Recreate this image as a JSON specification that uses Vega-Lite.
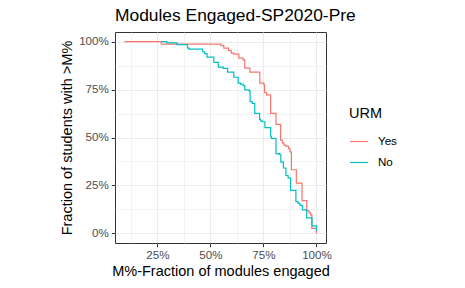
{
  "$schema": "https://vega.github.io/schema/vega-lite/v6.json",
  "width": 211,
  "height": 211,
  "autosize": {"type": "none"},
  "padding": {"left": 115, "top": 32, "right": 139, "bottom": 45},
  "background": "white",
  "title": {"text": "Modules Engaged-SP2020-Pre", "anchor": "start", "frame": "group", "font": "Liberation Sans", "fontSize": 17.4, "fontWeight": "normal", "color": "black", "offset": 8},
  "config": {"view": {"stroke": "#333333", "strokeWidth": 1}, "font": "Liberation Sans"},
  "data": {"values": [
    {"URM": "Yes", "x": 9.5, "y": 100},
    {"URM": "Yes", "x": 26.8, "y": 98.7},
    {"URM": "Yes", "x": 55.0, "y": 97.9},
    {"URM": "Yes", "x": 56.3, "y": 96.6},
    {"URM": "Yes", "x": 58.5, "y": 95.4},
    {"URM": "Yes", "x": 59.8, "y": 94.0},
    {"URM": "Yes", "x": 61.0, "y": 93.5},
    {"URM": "Yes", "x": 63.4, "y": 91.4},
    {"URM": "Yes", "x": 65.4, "y": 90.5},
    {"URM": "Yes", "x": 66.2, "y": 86.2},
    {"URM": "Yes", "x": 68.6, "y": 84.1},
    {"URM": "Yes", "x": 73.3, "y": 78.3},
    {"URM": "Yes", "x": 75.2, "y": 77.4},
    {"URM": "Yes", "x": 75.5, "y": 73.4},
    {"URM": "Yes", "x": 76.5, "y": 72.2},
    {"URM": "Yes", "x": 78.4, "y": 62.6},
    {"URM": "Yes", "x": 80.9, "y": 56.8},
    {"URM": "Yes", "x": 83.1, "y": 48.6},
    {"URM": "Yes", "x": 83.9, "y": 47.2},
    {"URM": "Yes", "x": 84.7, "y": 46.0},
    {"URM": "Yes", "x": 85.6, "y": 45.4},
    {"URM": "Yes", "x": 86.9, "y": 44.2},
    {"URM": "Yes", "x": 87.5, "y": 42.5},
    {"URM": "Yes", "x": 88.2, "y": 33.2},
    {"URM": "Yes", "x": 90.5, "y": 26.2},
    {"URM": "Yes", "x": 93.2, "y": 17.1},
    {"URM": "Yes", "x": 95.4, "y": 11.9},
    {"URM": "Yes", "x": 96.5, "y": 10.7},
    {"URM": "Yes", "x": 97.3, "y": 9.5},
    {"URM": "Yes", "x": 97.8, "y": 2.6},
    {"URM": "Yes", "x": 100, "y": 0},
    {"URM": "No", "x": 26.8, "y": 100},
    {"URM": "No", "x": 29.5, "y": 99.3},
    {"URM": "No", "x": 34.2, "y": 98.4},
    {"URM": "No", "x": 39.2, "y": 96.6},
    {"URM": "No", "x": 40.0, "y": 96.1},
    {"URM": "No", "x": 46.3, "y": 94.7},
    {"URM": "No", "x": 47.3, "y": 93.7},
    {"URM": "No", "x": 48.4, "y": 91.9},
    {"URM": "No", "x": 51.6, "y": 89.2},
    {"URM": "No", "x": 53.7, "y": 86.7},
    {"URM": "No", "x": 56.0, "y": 86.0},
    {"URM": "No", "x": 58.1, "y": 84.1},
    {"URM": "No", "x": 61.0, "y": 81.4},
    {"URM": "No", "x": 63.1, "y": 78.3},
    {"URM": "No", "x": 64.2, "y": 77.8},
    {"URM": "No", "x": 65.4, "y": 77.0},
    {"URM": "No", "x": 66.2, "y": 74.8},
    {"URM": "No", "x": 68.3, "y": 74.3},
    {"URM": "No", "x": 68.7, "y": 68.7},
    {"URM": "No", "x": 69.7, "y": 67.8},
    {"URM": "No", "x": 70.9, "y": 62.6},
    {"URM": "No", "x": 73.2, "y": 59.4},
    {"URM": "No", "x": 73.6, "y": 58.7},
    {"URM": "No", "x": 74.4, "y": 58.2},
    {"URM": "No", "x": 75.7, "y": 55.2},
    {"URM": "No", "x": 78.4, "y": 50.4},
    {"URM": "No", "x": 78.8, "y": 49.5},
    {"URM": "No", "x": 80.9, "y": 41.6},
    {"URM": "No", "x": 82.5, "y": 41.2},
    {"URM": "No", "x": 83.2, "y": 37.2},
    {"URM": "No", "x": 84.4, "y": 34.1},
    {"URM": "No", "x": 85.6, "y": 30.2},
    {"URM": "No", "x": 86.6, "y": 29.0},
    {"URM": "No", "x": 87.8, "y": 22.4},
    {"URM": "No", "x": 90.3, "y": 16.6},
    {"URM": "No", "x": 91.3, "y": 15.7},
    {"URM": "No", "x": 92.2, "y": 14.6},
    {"URM": "No", "x": 93.4, "y": 12.3},
    {"URM": "No", "x": 95.4, "y": 8.1},
    {"URM": "No", "x": 97.9, "y": 3.9},
    {"URM": "No", "x": 100, "y": 1.4}
  ]},
  "mark": {"type": "line", "interpolate": "step-after", "strokeWidth": 1.2},
  "encoding": {
    "x": {
      "field": "x", "type": "quantitative",
      "scale": {"domain": [5, 104.5], "nice": false, "zero": false},
      "axis": {
        "values": [12.5, 25, 37.5, 50, 62.5, 75, 87.5, 100],
        "labelExpr": "datum.value % 25 == 0 ? datum.value + '%' : ''",
        "labelOverlap": false,
        "domain": false,
        "tickColor": {"condition": {"test": "datum.value % 25 == 0", "value": "#333333"}, "value": "transparent"},
        "tickSize": 3.7, "tickWidth": 1,
        "gridColor": "#EBEBEB",
        "gridWidth": {"condition": {"test": "datum.value % 25 == 0", "value": 1.1}, "value": 0.6},
        "labelColor": "#4D4D4D", "labelFontSize": 11.6, "labelPadding": 3, "labelFont": "Liberation Sans",
        "title": "M%-Fraction of modules engaged", "titleFontSize": 14.5, "titleFontWeight": "normal", "titleColor": "black", "titlePadding": 3, "titleFont": "Liberation Sans"
      }
    },
    "y": {
      "field": "y", "type": "quantitative",
      "scale": {"domain": [-5, 105], "nice": false, "zero": false},
      "axis": {
        "values": [0, 12.5, 25, 37.5, 50, 62.5, 75, 87.5, 100],
        "labelExpr": "datum.value % 25 == 0 ? datum.value + '%' : ''",
        "labelOverlap": false,
        "domain": false,
        "tickColor": {"condition": {"test": "datum.value % 25 == 0", "value": "#333333"}, "value": "transparent"},
        "tickSize": 3.7, "tickWidth": 1,
        "gridColor": "#EBEBEB",
        "gridWidth": {"condition": {"test": "datum.value % 25 == 0", "value": 1.1}, "value": 0.6},
        "labelColor": "#4D4D4D", "labelFontSize": 11.6, "labelPadding": 3, "labelFont": "Liberation Sans",
        "title": "Fraction of students with >M%", "titleFontSize": 14.5, "titleFontWeight": "normal", "titleColor": "black", "titlePadding": 4, "titleFont": "Liberation Sans"
      }
    },
    "color": {
      "field": "URM", "type": "nominal",
      "scale": {"domain": ["Yes", "No"], "range": ["#F8766D", "#00BFC4"]},
      "legend": {
        "orient": "none", "legendX": 234, "legendY": 75, "padding": 0,
        "title": "URM", "titleFontSize": 14.5, "titleFontWeight": "normal", "titleColor": "black", "titleFont": "Liberation Sans", "titlePadding": 10,
        "labelFontSize": 11.6, "labelColor": "black", "labelFont": "Liberation Sans", "labelOffset": 9,
        "symbolType": "stroke", "symbolSize": 324, "symbolStrokeWidth": 1.2, "rowPadding": 5
      }
    }
  }
}
